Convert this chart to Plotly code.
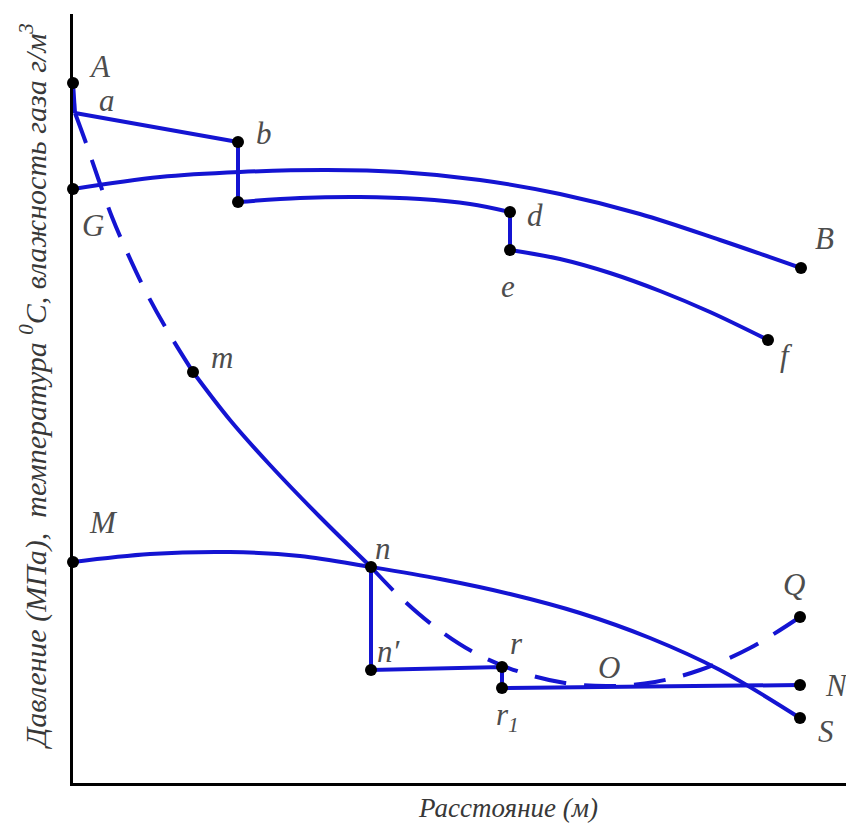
import plotly.graph_objects as go

# --- Curve data (distance along pipeline, value in arbitrary chart units) ---
# Gas temperature along the line (G -> B)
gb_x = [0, 87, 167, 254, 327, 407, 487, 567, 647, 728]
gb_y = [594, 606, 611, 613, 611, 603, 589, 569, 543, 515]

# Stepped gas humidity line a-b, b'-d, e-f
ab_x = [2, 165]
ab_y = [670, 641]
bd_x = [165, 227, 287, 347, 397, 437]
bd_y = [581, 585, 586, 584, 579, 571]
ef_x = [437, 487, 537, 587, 637, 695]
ef_y = [533, 524, 510, 492, 471, 443]

# Pressure along the line (M -> n -> S)
ms_x = [0, 77, 157, 227, 298, 367, 437, 507, 577, 647, 727]
ms_y = [221, 229, 231, 227, 216, 204, 189, 170, 145, 113, 65]

# Hydrate formation curve: dashed a..m, solid m..n, dashed n..Q
am_x = [2, 13, 25, 39, 54, 72, 94, 120]
am_y = [670, 640, 605, 566, 531, 493, 453, 411]
mn_x = [120, 157, 197, 247, 298]
mn_y = [411, 363, 318, 266, 216]
nq_x = [298, 327, 362, 402, 447, 492, 537, 582, 627, 677, 727]
nq_y = [216, 186, 156, 130, 111, 100, 97, 101, 113, 135, 166]

# Lower steps n -> n' -> r -> r1 -> N
step_x = [298, 298, 429, 429, 727]
step_y = [216, 113, 116, 95, 98]

# Marked points
pt_names = ["A", "b", "b'", "d", "e", "f", "B", "G", "m", "M", "n", "n'", "r", "r1", "N", "S", "Q"]
pt_x = [0, 165, 165, 437, 437, 695, 728, 0, 120, 0, 298, 298, 429, 429, 727, 727, 727]
pt_y = [700, 641, 581, 571, 533, 443, 515, 594, 411, 221, 216, 113, 116, 95, 98, 65, 166]

# Point labels
lab_text = ["A", "a", "b", "G", "d", "B", "e", "f", "m", "M", "n", "n′", "r", "O", "Q", "N", "S", "r<sub>1</sub>"]
lab_x = [27, 34, 191, 20, 462, 751, 435, 713, 149, 30, 310, 316, 443, 536, 721, 764, 753, 434]
lab_y = [717, 683, 650, 558, 568, 545, 497, 428, 426, 261, 235, 132, 140, 116, 199, 98, 52, 66]

BLUE = "#1414d2"
LW = 4
SERIF = "Liberation Serif"

fig = go.Figure()


def add_line(xs, ys, dash="solid", shape="spline"):
    fig.add_trace(go.Scatter(
        x=xs, y=ys, mode="lines",
        line=dict(color=BLUE, width=LW, dash=dash, shape=shape, smoothing=1.0),
        hoverinfo="skip", showlegend=False, cliponaxis=False,
    ))


add_line(gb_x, gb_y)
add_line([0, 2], [700, 670], shape="linear")
add_line(ab_x, ab_y, shape="linear")
add_line([165, 165], [641, 581], shape="linear")
add_line(bd_x, bd_y)
add_line([437, 437], [571, 533], shape="linear")
add_line(ef_x, ef_y)
add_line(ms_x, ms_y)
add_line(am_x, am_y, dash="32px,18px")
add_line(mn_x, mn_y)
add_line(nq_x, nq_y, dash="32px,18px")
add_line(step_x, step_y, shape="linear")

fig.add_trace(go.Scatter(
    x=pt_x, y=pt_y, mode="markers", text=pt_names,
    marker=dict(color="black", size=12),
    hoverinfo="text", showlegend=False, cliponaxis=False,
))

for t, x, y in zip(lab_text, lab_x, lab_y):
    fig.add_annotation(
        x=x, y=y, text=t, showarrow=False,
        font=dict(family=SERIF, style="italic", size=31, color="#4d4d4d"),
        xanchor="center", yanchor="middle",
    )

# Axis titles
fig.add_annotation(
    xref="paper", yref="paper", x=0.563, y=-0.0325,
    text="Расстояние (м)", showarrow=False,
    font=dict(family=SERIF, style="italic", size=27, color="#383838"),
    xanchor="center", yanchor="middle",
)
fig.add_annotation(
    xref="paper", yref="paper", x=-0.051, y=0.516,
    text="Давление (МПа),  температура <sup>0</sup>С, влажность газа г/м<sup>3</sup>",
    textangle=-90, showarrow=False,
    font=dict(family=SERIF, style="italic", size=30, color="#383838"),
    xanchor="center", yanchor="middle",
)

fig.update_layout(
    width=846, height=832,
    margin=dict(l=73, r=0, t=14, b=49),
    paper_bgcolor="white", plot_bgcolor="white",
    xaxis=dict(range=[0, 773], showgrid=False, zeroline=False, showticklabels=False,
               ticks="", showline=True, linecolor="black", linewidth=3),
    yaxis=dict(range=[0, 769], showgrid=False, zeroline=False, showticklabels=False,
               ticks="", showline=True, linecolor="black", linewidth=3),
)

fig.write_html("out.html")
